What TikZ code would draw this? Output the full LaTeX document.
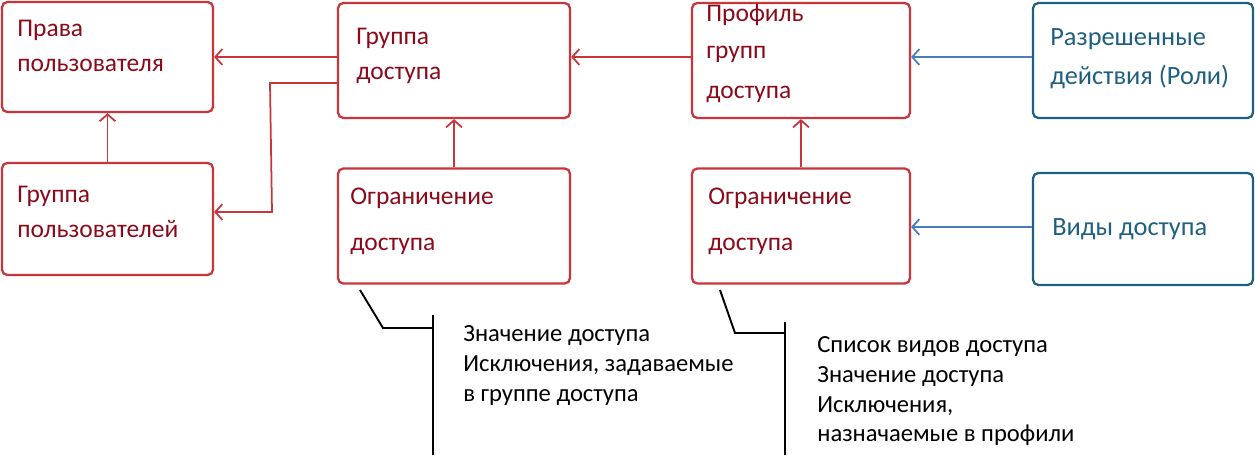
\documentclass[tikz,border=0pt]{standalone}
\usepackage{fontspec}
\setmainfont{Carlito}
\usetikzlibrary{positioning,arrows.meta}
\definecolor{redline}{HTML}{C8353A}
\definecolor{redtext}{HTML}{8B0A1A}
\definecolor{blueline}{HTML}{1F5F7F}
\definecolor{bluetext}{HTML}{1F5F7F}
\definecolor{bluearrow}{HTML}{4A7EBB}
\tikzset{
  rbox/.style={draw=redline, line width=1.3pt, rounded corners=3pt},
  bbox/.style={draw=blueline, line width=1.3pt, rounded corners=3pt},
  rtxt/.style={anchor=north west, align=left, text=redtext, font=\fontsize{14.5}{20}\selectfont, inner sep=0pt},
  btxt/.style={anchor=west, align=left, text=bluetext, font=\fontsize{15}{20}\selectfont, inner sep=0pt},
  ktxt/.style={anchor=north west, align=left, font=\fontsize{14}{17}\selectfont, inner sep=0pt},
  rarr/.style={-{Straight Barb[length=4pt,width=9pt]}, draw=redline, line width=1pt},
  barr/.style={-{Straight Barb[length=4pt,width=9pt]}, draw=bluearrow, line width=1pt}
}
\begin{document}
\begin{tikzpicture}[x=0.02cm, y=-0.02cm]
\useasboundingbox (0,0) rectangle (1255,470);
% boxes
\node[rbox, minimum width=4.22cm, minimum height=2.2cm] (prava) at (107.5,57) {};
\node[rtxt] at (17,20) {Права\\пользователя};
\node[rbox, minimum width=4.22cm, minimum height=2.24cm] (gpol) at (107.5,219) {};
\node[rtxt] at (17,186) {Группа\\пользователей};
\node[rbox, minimum width=4.64cm, minimum height=2.3cm] (gdost) at (454,60.5) {};
\node[rtxt] at (356,28) {Группа\\доступа};
\node[rbox, minimum width=4.64cm, minimum height=2.3cm] (ogr1) at (454,226) {};
\node[rtxt] at (350,188) {Ограничение\\[6pt]доступа};
\node[rbox, minimum width=4.36cm, minimum height=2.3cm] (prof) at (801,60.5) {};
\node[rtxt] at (706,4) {Профиль\\[1pt]групп\\[3pt]доступа};
\node[rbox, minimum width=4.36cm, minimum height=2.3cm] (ogr2) at (801,226) {};
\node[rtxt] at (708,188) {Ограничение\\[6pt]доступа};
\node[bbox, minimum width=4.4cm, minimum height=2.3cm] (razr) at (1143,60.5) {};
\node[btxt] at (1050,59) {Разрешенные\\[2pt]действия (Роли)};
\node[bbox, minimum width=4.4cm, minimum height=2.24cm] (vidy) at (1143,229) {};
\node[btxt] at (1052,229) {Виды доступа};
% connectors
\draw[rarr] (gdost.west |- 0,57) -- (prava.east |- 0,57);
\draw[rarr] (gpol.north) -- (prava.south);
\draw[rarr] (gdost.west |- 0,83) -- (270,83) -- (272,212) -- (gpol.east |- 0,212);
\draw[rarr] (ogr1.north |- 0,167) -- (gdost.south);
\draw[rarr] (prof.west |- 0,57) -- (gdost.east |- 0,57);
\draw[rarr] (ogr2.north |- 0,167) -- (prof.south);
\draw[barr] (razr.west |- 0,57) -- (prof.east |- 0,57);
\draw[barr] (vidy.west |- 0,227) -- (ogr2.east |- 0,227);
% callouts
\coordinate (c1) at (433,328);
\draw[line width=1.1pt] (360,290) -- (383,328) -- (c1);
\draw[line width=1.1pt] (433,315) -- (433,455);
\node[ktxt] at (463,325) {Значение доступа\\Исключения, задаваемые\\в группе доступа};
\coordinate (c2) at (785,333);
\draw[line width=1.1pt] (720,290) -- (735,333) -- (c2);
\draw[line width=1.1pt] (785,322) -- (785,455);
\node[ktxt] at (817,336) {Список видов доступа\\Значение доступа\\Исключения,\\назначаемые в профили};
\end{tikzpicture}
\end{document}
